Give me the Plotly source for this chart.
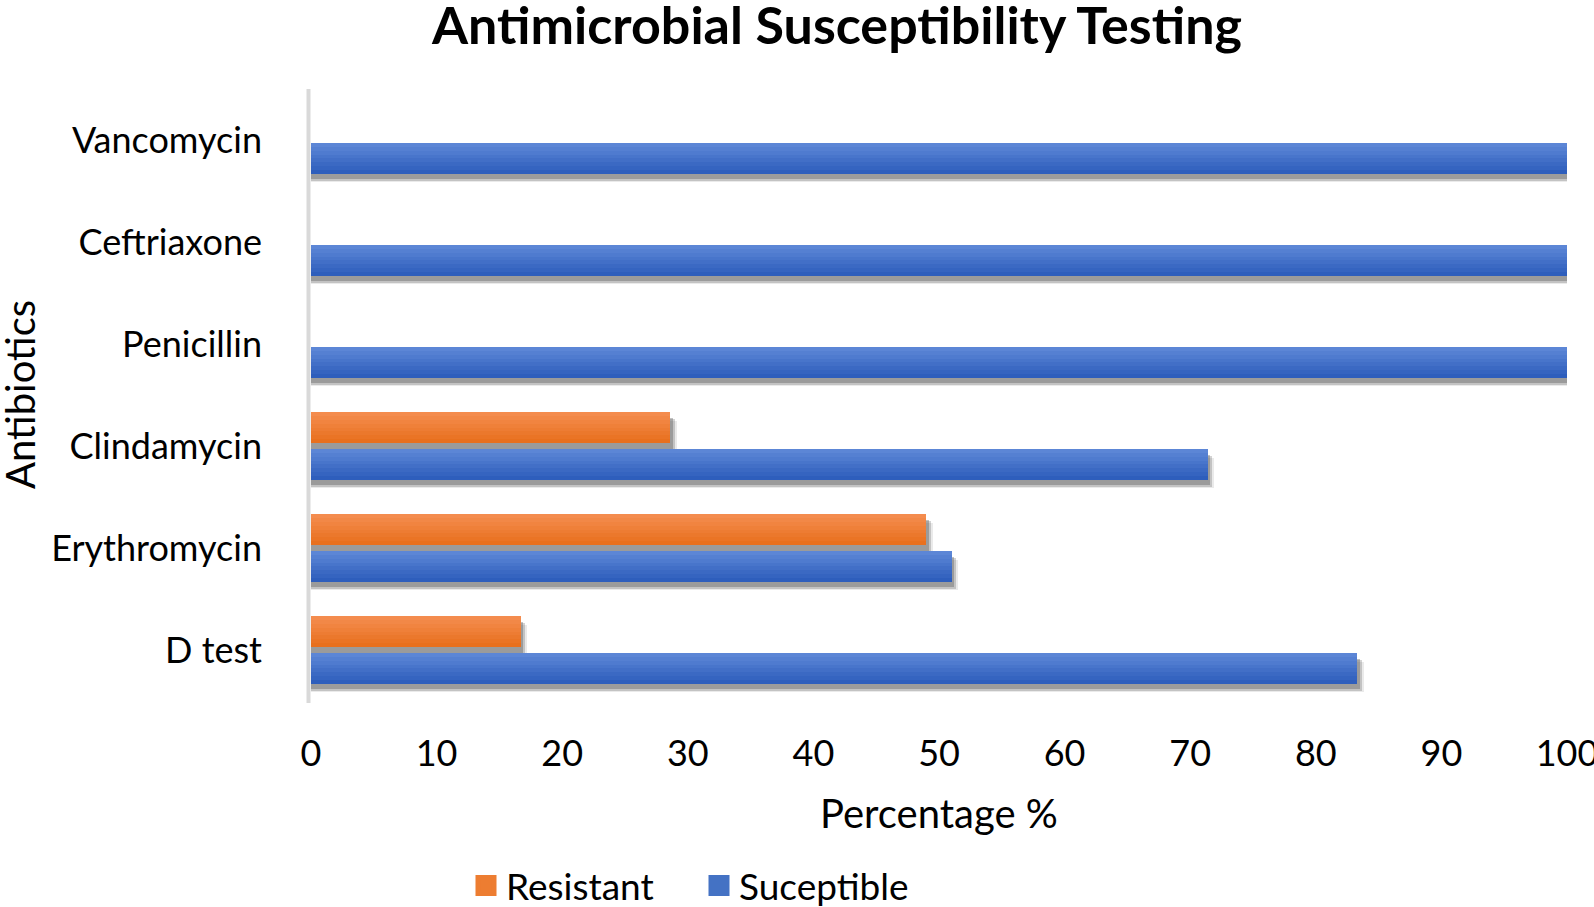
import plotly.graph_objects as go

categories = ["D test", "Erythromycin", "Clindamycin", "Penicillin", "Ceftriaxone", "Vancomycin"]
resistant = [16.7, 49.0, 28.6, 0, 0, 0]
susceptible = [83.3, 51.0, 71.4, 100, 100, 100]
x_ticks = [0, 10, 20, 30, 40, 50, 60, 70, 80, 90, 100]
series_names = ["Resistant", "Suceptible"]

ORANGE = "#ED7D31"
BLUE = "#4472C4"
ORANGE_GRAD = ((232, 112, 30), (244, 140, 78))   # bottom, top
BLUE_GRAD = ((46, 94, 188), (92, 134, 214))
FONT = "Lato"

W = 0.30
N_STRIPS = 8
fig = go.Figure()


def shadow(vals, off):
    for dy, ext, a in [(0.085, 0.5, 0.12), (0.07, 0.35, 0.25), (0.055, 0.2, 0.35)]:
        xs = [v + ext if v > 0 else None for v in vals]
        fig.add_trace(go.Bar(y=categories, x=xs, orientation="h", width=W, offset=off - dy,
                             marker=dict(color=f"rgba(80,80,80,{a})", line=dict(width=0)),
                             showlegend=False, hoverinfo="skip"))


def gradient_bar(vals, off, grad, name):
    lo, hi = grad
    h = W / N_STRIPS
    for k in range(N_STRIPS):
        t = k / (N_STRIPS - 1)
        c = tuple(round(lo[i] + (hi[i] - lo[i]) * t) for i in range(3))
        fig.add_trace(go.Bar(y=categories, x=vals, orientation="h", name=name,
                             width=h * 1.02, offset=off + k * h, showlegend=False,
                             hoverinfo="skip" if k else None,
                             marker=dict(color=f"rgb{c}", line=dict(width=0))))


shadow(resistant, 0.03)
gradient_bar(resistant, 0.03, ORANGE_GRAD, series_names[0])
shadow(susceptible, -0.33)
gradient_bar(susceptible, -0.33, BLUE_GRAD, series_names[1])

# legend entries with larger square swatches
for nm, col in zip(series_names, [ORANGE, BLUE]):
    fig.add_trace(go.Scatter(x=[None], y=[None], mode="markers", name=nm,
                             marker=dict(symbol="square", size=16, color=col,
                                         line=dict(color=col, width=5))))

fig.update_layout(
    width=1594, height=907,
    margin=dict(l=311, r=27, t=89, b=206),
    barmode="overlay",
    plot_bgcolor="white", paper_bgcolor="white",
    font=dict(family=FONT, color="black", size=36),
    title=dict(text="<b>Antimicrobial Susceptibility Testing</b>", x=837 / 1594, xanchor="center",
               y=1 - 26 / 907, yanchor="middle", font=dict(size=52, family=FONT)),
    xaxis=dict(range=[0, 100], tickvals=x_ticks, showgrid=False, zeroline=False, showline=False,
               ticks="", ticklabelstandoff=28, tickfont=dict(size=36), automargin=False,
               ticklabeloverflow="allow"),
    yaxis=dict(showgrid=False, zeroline=False, showline=False, ticks="",
               ticklabelstandoff=48, tickfont=dict(size=36), automargin=False,
               range=[-0.5, 5.5]),
    legend=dict(orientation="h", xref="container", x=466 / 1594, xanchor="left",
                yref="container", y=1 - 886 / 907, yanchor="middle",
                font=dict(size=37), itemwidth=30, traceorder="normal", entrywidth=188,
                itemsizing="trace"),
    bargap=0,
    annotations=[
        dict(text="Percentage %", xref="paper", yref="paper", x=0.5, xanchor="center",
             y=-112 / 612, yanchor="middle", showarrow=False, font=dict(size=40)),
        dict(text="Antibiotics", xref="paper", yref="paper", x=(20 - 311) / 1256, xanchor="center",
             y=0.5, yanchor="middle", textangle=-90, showarrow=False, font=dict(size=40)),
    ],
)

fig.add_shape(type="line", xref="paper", yref="paper", x0=-2.5 / 1256, x1=-2.5 / 1256,
              y0=-2 / 612, y1=1, line=dict(color="#D9D9D9", width=4), layer="above")

fig.write_html("out.html", config={"displayModeBar": False},
               post_script="document.body.style.margin='0';")
